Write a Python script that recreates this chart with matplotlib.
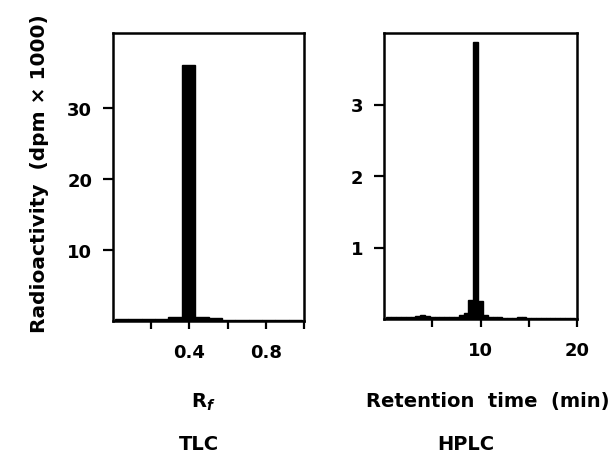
import matplotlib
matplotlib.use("Agg")
import matplotlib.pyplot as plt
import numpy as np

plt.rcParams['font.family'] = ['DejaVu Sans']
plt.rcParams['font.weight'] = 'bold'
plt.rcParams['mathtext.fontset'] = 'custom'
plt.rcParams['mathtext.rm'] = 'DejaVu Sans:bold'
plt.rcParams['mathtext.it'] = 'DejaVu Sans:bold:italic'

# TLC data (Rf bins, radioactivity dpm x 1000)
tlc_edges = [0.01, 0.08, 0.15, 0.22, 0.29, 0.36, 0.43, 0.50, 0.57, 0.64, 0.71, 0.78, 0.85, 0.92]
tlc_values = [0.3, 0.3, 0.3, 0.3, 0.6, 36.0, 0.6, 0.4, 0.2, 0.2, 0.2, 0.2, 0.2, 0.2]
tlc_width = 0.07

# HPLC data (retention time bins, min)
hplc_edges = [0.25, 0.75, 1.25, 1.75, 2.25, 2.75, 3.25, 3.75, 4.25, 4.75, 5.25, 5.75, 6.25, 6.75,
              7.25, 7.75, 8.25, 8.75, 9.25, 9.75, 10.25, 10.75, 11.25, 11.75, 12.25, 12.75, 13.25,
              13.75, 14.25, 14.75, 15.25, 15.75, 16.25, 16.75, 17.25, 17.75, 18.25, 18.75, 19.25]
hplc_values = [0.03, 0.03, 0.03, 0.03, 0.03, 0.03, 0.04, 0.06, 0.04, 0.03, 0.03, 0.03, 0.03, 0.03,
               0.03, 0.05, 0.08, 0.27, 3.87, 0.25, 0.06, 0.03, 0.03, 0.03, 0.02, 0.02, 0.02,
               0.03, 0.03, 0.02, 0.02, 0.02, 0.02, 0.02, 0.02, 0.02, 0.02, 0.02, 0.02]
hplc_width = 0.5

tlc_ticks = [0.2, 0.4, 0.6, 0.8, 1.0]
tlc_ticklabels = ['', '0.4', '', '0.8', '']
tlc_yticks = [10, 20, 30]
hplc_ticks = [5, 10, 15, 20]
hplc_ticklabels = ['', '10', '', '20']
hplc_yticks = [1, 2, 3]

W, H = 609, 456
fig = plt.figure(figsize=(W / 100, H / 100), dpi=100)

def px_axes(x0, y0, x1, y1):
    return fig.add_axes([x0 / W, 1 - y1 / H, (x1 - x0) / W, (y1 - y0) / H])

ax1 = px_axes(113, 34, 304, 322)
ax2 = px_axes(384, 34, 577, 320)

ax1.bar(tlc_edges, tlc_values, width=tlc_width, align='edge', color='black', edgecolor='black', linewidth=1)
ax1.set_xlim(0, 1.0)
ax1.set_ylim(0, 40.5)
ax1.set_xticks(tlc_ticks)
ax1.set_xticklabels(tlc_ticklabels)
ax1.set_yticks(tlc_yticks)

ax2.bar(hplc_edges, hplc_values, width=hplc_width, align='edge', color='black', edgecolor='black', linewidth=1)
ax2.set_xlim(0, 20)
ax2.set_ylim(0, 4.0)
ax2.set_xticks(hplc_ticks)
ax2.set_xticklabels(hplc_ticklabels)
ax2.set_yticks(hplc_yticks)

FS = 13
LFS = 14
for ax in (ax1, ax2):
    for s in ax.spines.values():
        s.set_linewidth(1.8)
    ax.tick_params(axis='y', direction='out', length=7, width=1.6, labelsize=FS, pad=8)
    ax.tick_params(axis='x', direction='out', length=6, width=1.6, labelsize=FS, pad=10)
    for lab in ax.get_xticklabels() + ax.get_yticklabels():
        lab.set_fontweight('bold')

fig.text(203 / W, 1 - 402 / H, r'R$_f$', ha='center', va='center', fontsize=LFS, fontweight='bold')
fig.text(488 / W, 1 - 402 / H, 'Retention  time  (min)', ha='center', va='center', fontsize=LFS, fontweight='bold')
fig.text(199 / W, 1 - 445 / H, 'TLC', ha='center', va='center', fontsize=LFS, fontweight='bold')
fig.text(466 / W, 1 - 445 / H, 'HPLC', ha='center', va='center', fontsize=LFS, fontweight='bold')
fig.text(40 / W, 1 - 174 / H, 'Radioactivity  (dpm \u00d7 1000)', ha='center', va='center',
         rotation=90, fontsize=14.5, fontweight='bold')

fig.savefig('out.png', dpi=100)
